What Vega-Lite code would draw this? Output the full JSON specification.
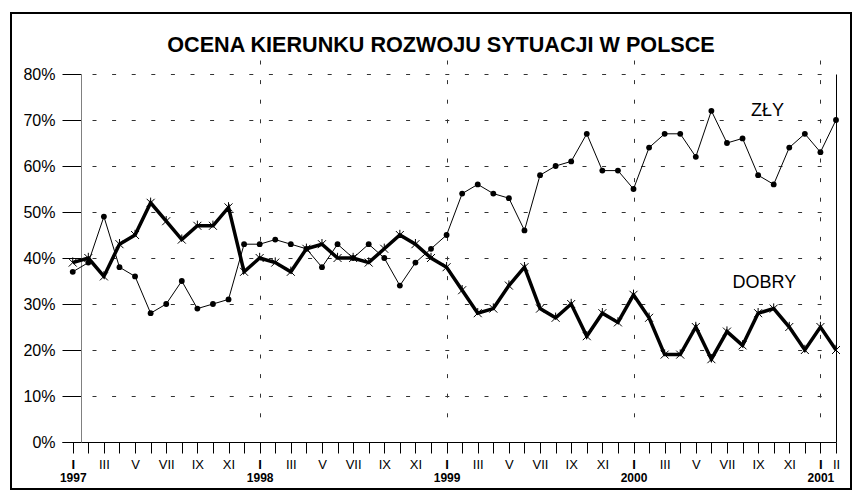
{
  "$schema": "https://vega.github.io/schema/vega-lite/v6.json",
  "width": 840,
  "height": 476,
  "autosize": {"type": "none"},
  "padding": {"left": 11, "top": 13, "right": 1, "bottom": 9},
  "background": "white",
  "config": {"view": {"stroke": "black", "strokeWidth": 2}, "font": "Liberation Sans"},
  "title": {"text": "OCENA KIERUNKU ROZWOJU SYTUACJI W POLSCE", "fontSize": 21.6, "fontWeight": "bold", "font": "Liberation Sans", "color": "black", "anchor": "middle", "baseline": "alphabetic", "offset": -61, "dx": 10},
  "datasets": {
    "series": [
      {"m": 0, "zly": 37, "dobry": 39}, {"m": 1, "zly": 39, "dobry": 40}, {"m": 2, "zly": 49, "dobry": 36}, {"m": 3, "zly": 38, "dobry": 43},
      {"m": 4, "zly": 36, "dobry": 45}, {"m": 5, "zly": 28, "dobry": 52}, {"m": 6, "zly": 30, "dobry": 48}, {"m": 7, "zly": 35, "dobry": 44},
      {"m": 8, "zly": 29, "dobry": 47}, {"m": 9, "zly": 30, "dobry": 47}, {"m": 10, "zly": 31, "dobry": 51}, {"m": 11, "zly": 43, "dobry": 37},
      {"m": 12, "zly": 43, "dobry": 40}, {"m": 13, "zly": 44, "dobry": 39}, {"m": 14, "zly": 43, "dobry": 37}, {"m": 15, "zly": 42, "dobry": 42},
      {"m": 16, "zly": 38, "dobry": 43}, {"m": 17, "zly": 43, "dobry": 40}, {"m": 18, "zly": 40, "dobry": 40}, {"m": 19, "zly": 43, "dobry": 39},
      {"m": 20, "zly": 40, "dobry": 42}, {"m": 21, "zly": 34, "dobry": 45}, {"m": 22, "zly": 39, "dobry": 43}, {"m": 23, "zly": 42, "dobry": 40},
      {"m": 24, "zly": 45, "dobry": 38}, {"m": 25, "zly": 54, "dobry": 33}, {"m": 26, "zly": 56, "dobry": 28}, {"m": 27, "zly": 54, "dobry": 29},
      {"m": 28, "zly": 53, "dobry": 34}, {"m": 29, "zly": 46, "dobry": 38}, {"m": 30, "zly": 58, "dobry": 29}, {"m": 31, "zly": 60, "dobry": 27},
      {"m": 32, "zly": 61, "dobry": 30}, {"m": 33, "zly": 67, "dobry": 23}, {"m": 34, "zly": 59, "dobry": 28}, {"m": 35, "zly": 59, "dobry": 26},
      {"m": 36, "zly": 55, "dobry": 32}, {"m": 37, "zly": 64, "dobry": 27}, {"m": 38, "zly": 67, "dobry": 19}, {"m": 39, "zly": 67, "dobry": 19},
      {"m": 40, "zly": 62, "dobry": 25}, {"m": 41, "zly": 72, "dobry": 18}, {"m": 42, "zly": 65, "dobry": 24}, {"m": 43, "zly": 66, "dobry": 21},
      {"m": 44, "zly": 58, "dobry": 28}, {"m": 45, "zly": 56, "dobry": 29}, {"m": 46, "zly": 64, "dobry": 25}, {"m": 47, "zly": 67, "dobry": 20},
      {"m": 48, "zly": 63, "dobry": 25}, {"m": 49, "zly": 70, "dobry": 20}
    ],
    "labels": [
      {"label": "ZŁY", "m": 44.6, "v": 72},
      {"label": "DOBRY", "m": 44.4, "v": 34.6}
    ]
  },
  "data": {"name": "series"},
  "layer": [
    {
      "mark": {"type": "line", "color": "black", "strokeWidth": 1},
      "encoding": {
        "x": {"field": "m", "type": "quantitative",
          "scale": {"domain": [-0.69, 49], "range": [51, 825], "nice": false, "zero": false},
          "axis": {"orient": "bottom", "offset": -47, "title": null,
            "values": [0,1,2,3,4,5,6,7,8,9,10,11,12,13,14,15,16,17,18,19,20,21,22,23,24,25,26,27,28,29,30,31,32,33,34,35,36,37,38,39,40,41,42,43,44,45,46,47,48,49],
            "labelExpr": "(datum.value % 2 === 0 || datum.value === 49) ? ['I','II','III','IV','V','VI','VII','VIII','IX','X','XI','XII'][datum.value % 12] : ''",
            "labelFlush": false, "labelOverlap": false, "labelBound": false,
            "labelFontSize": 13, "labelColor": "black", "labelFont": "Liberation Sans",
            "labelFontWeight": {"condition": {"test": "datum.value % 12 === 0", "value": "bold"}, "value": "normal"},
            "labelPadding": 5, "tickSize": 11, "tickColor": "black", "domainColor": "black", "grid": false}},
        "y": {"field": "zly", "type": "quantitative",
          "scale": {"domain": [0, 80], "range": [429, 61], "nice": false, "zero": false},
          "axis": {"orient": "left", "offset": -70, "title": null,
            "values": [0,10,20,30,40,50,60,70,80],
            "labelExpr": "datum.value + '%'",
            "labelFontSize": 16, "labelColor": "black", "labelFont": "Liberation Sans", "labelPadding": 7,
            "tickSize": 19, "tickColor": "black", "domainColor": "#808080",
            "grid": true, "gridColor": "#333333", "gridDash": [4, 15.6], "gridDashOffset": 9.2}}
      }
    },
    {
      "mark": {"type": "point", "shape": "M-1,-1L1,1M-1,1L1,-1M0,-1.3L0,0", "filled": false, "color": "black", "strokeWidth": 1, "size": 64, "opacity": 1},
      "encoding": {
        "x": {"field": "m", "type": "quantitative", "scale": {"domain": [-0.69, 49], "range": [51, 825], "nice": false, "zero": false}, "axis": null},
        "y": {"field": "dobry", "type": "quantitative", "scale": {"domain": [0, 80], "range": [429, 61], "nice": false, "zero": false}, "axis": null}
      }
    },
    {
      "mark": {"type": "line", "color": "black", "strokeWidth": 3.5},
      "encoding": {
        "x": {"field": "m", "type": "quantitative",
          "scale": {"domain": [-0.69, 49], "range": [51, 825], "nice": false, "zero": false},
          "axis": {"orient": "bottom", "offset": -47, "title": null,
            "values": [0, 12, 24, 36, 48],
            "labelExpr": "'' + (1997 + datum.value / 12)",
            "ticks": false, "tickSize": 0, "domain": false,
            "labelFontSize": 12, "labelFontWeight": "bold", "labelColor": "black", "labelFont": "Liberation Sans",
            "labelPadding": 30, "labelFlush": false, "labelOverlap": false, "labelBound": false,
            "grid": true, "gridColor": "#333333", "gridDash": [4, 15.6],
            "gridOpacity": {"condition": {"test": "datum.value === 0", "value": 0}, "value": 1}}},
        "y": {"field": "dobry", "type": "quantitative",
          "scale": {"domain": [0, 80], "range": [429, 61], "nice": false, "zero": false},
          "axis": {"orient": "right", "offset": -15, "title": null, "labels": false, "ticks": false, "grid": false, "domain": true, "domainColor": "black", "domainWidth": 1}}
      }
    },
    {
      "mark": {"type": "point", "filled": true, "color": "black", "size": 34, "opacity": 1},
      "encoding": {
        "x": {"field": "m", "type": "quantitative", "scale": {"domain": [-0.69, 49], "range": [51, 825], "nice": false, "zero": false}, "axis": null},
        "y": {"field": "zly", "type": "quantitative", "scale": {"domain": [0, 80], "range": [429, 61], "nice": false, "zero": false}, "axis": null}
      }
    },
    {
      "data": {"name": "labels"},
      "mark": {"type": "text", "fontSize": 18, "font": "Liberation Sans", "color": "black", "align": "center", "baseline": "middle"},
      "encoding": {
        "x": {"field": "m", "type": "quantitative", "scale": {"domain": [-0.69, 49], "range": [51, 825], "nice": false, "zero": false}, "axis": null},
        "y": {"field": "v", "type": "quantitative", "scale": {"domain": [0, 80], "range": [429, 61], "nice": false, "zero": false}, "axis": null},
        "text": {"field": "label"}
      }
    }
  ],
  "resolve": {"axis": {"x": "independent", "y": "independent"}}
}
